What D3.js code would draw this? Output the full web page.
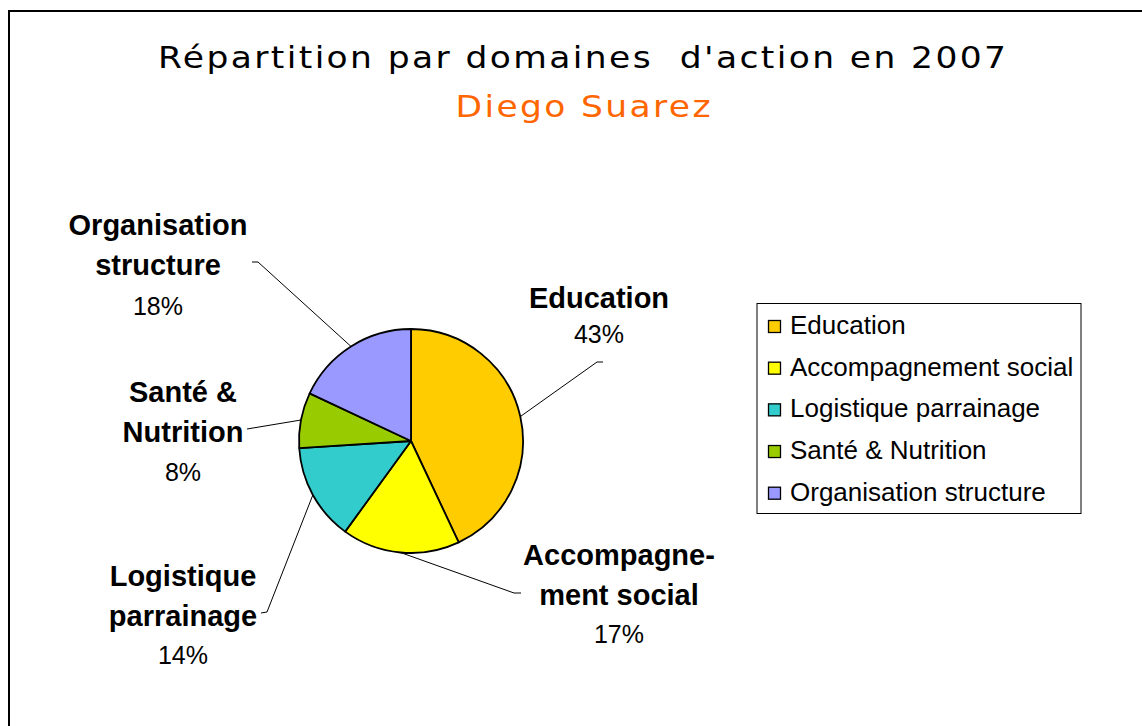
<!DOCTYPE html>
<html>
<head>
<meta charset="utf-8">
<script src="https://cdn.jsdelivr.net/npm/d3@7"></script>
<style>
  html, body { margin: 0; padding: 0; background: #fff; }
  svg { display: block; }
</style>
</head>
<body>
<svg id="chart" width="1142" height="726"></svg>
<script>
// ---- data ----
const categories = ["Education", "Accompagnement social", "Logistique parrainage", "Santé & Nutrition", "Organisation structure"];
const values = [43, 17, 14, 8, 18];
const labelLines = [["Education"], ["Accompagne-", "ment social"], ["Logistique", "parrainage"], ["Santé &", "Nutrition"], ["Organisation", "structure"]];
const colors = ["#FFCC00", "#FFFF00", "#33CCCC", "#99CC00", "#9999FF"];
const titleText = "Répartition par domaines\u00A0 d'action en 2007";
const subtitleText = "Diego Suarez";

// ---- layout (positions only) ----
const labelLayout = [
  { x: 599, y0: 308, gap: 40, pctY: 343, leader: [[603, 362], [597, 362]] },
  { x: 619, y0: 565, gap: 40, pctY: 643, leader: [[521, 593], [514, 593]] },
  { x: 183, y0: 586, gap: 40, pctY: 664, leader: [[261, 613], [267, 612]] },
  { x: 183, y0: 402, gap: 40, pctY: 481, leader: [[247, 429]] },
  { x: 158, y0: 235, gap: 40, pctY: 315, leader: [[252, 262], [258, 262]] }
];

const svg = d3.select("#chart");

// frame
svg.append("rect").attr("x", 9).attr("y", 11).attr("width", 1300).attr("height", 900)
  .attr("fill", "none").attr("stroke", "#000").attr("stroke-width", 2);

// titles (wide geometric look: horizontally stretched glyphs)
const sx = 1.15;
svg.append("text").attr("transform", `translate(582,68) scale(${sx},1)`).attr("text-anchor", "middle")
  .attr("font-family", "DejaVu Sans, sans-serif").attr("font-size", 30)
  .attr("textLength", 848 / sx).attr("lengthAdjust", "spacing")
  .attr("fill", "#000").text(titleText);
svg.append("text").attr("transform", `translate(583,117) scale(${sx},1)`).attr("text-anchor", "middle")
  .attr("font-family", "DejaVu Sans, sans-serif").attr("font-size", 30)
  .attr("textLength", 255 / sx).attr("lengthAdjust", "spacing")
  .attr("fill", "#FF6600").text(subtitleText);

// pie
const cx = 411, cy = 441, R = 112;
const pie = d3.pie().sort(null).value(d => d.v).startAngle(0).endAngle(2 * Math.PI);
const data = categories.map((c, i) => ({ c, v: values[i], i }));
const arcs = pie(data);
const arc = d3.arc().innerRadius(0).outerRadius(R);
const edge = d3.arc().innerRadius(R).outerRadius(R);

const g = svg.append("g").attr("transform", `translate(${cx},${cy})`);

// leader lines
arcs.forEach((a, i) => {
  const m = edge.centroid(a);
  const pts = [[cx + m[0], cy + m[1]]].concat(labelLayout[i].leader.slice().reverse());
  svg.append("path")
    .attr("d", d3.line()(pts))
    .attr("fill", "none").attr("stroke", "#000").attr("stroke-width", 1);
});

g.selectAll("path.slice").data(arcs).join("path")
  .attr("class", "slice")
  .attr("d", arc)
  .attr("fill", d => colors[d.data.i])
  .attr("stroke", "#000").attr("stroke-width", 1.8).attr("stroke-linejoin", "round");

// labels
arcs.forEach((a, i) => {
  const L = labelLayout[i];
  labelLines[i].forEach((line, k) => {
    svg.append("text").attr("x", L.x).attr("y", L.y0 + k * L.gap)
      .attr("text-anchor", "middle")
      .attr("font-family", "Liberation Sans, Arial, sans-serif")
      .attr("font-weight", "bold").attr("font-size", 29).attr("fill", "#000")
      .text(line);
  });
  svg.append("text").attr("x", L.x).attr("y", L.pctY)
    .attr("text-anchor", "middle")
    .attr("font-family", "Liberation Sans, Arial, sans-serif")
    .attr("font-size", 25).attr("fill", "#000")
    .text(values[i] + "%");
});

// legend
const lg = svg.append("g");
lg.append("rect").attr("x", 757).attr("y", 303.5).attr("width", 324).attr("height", 210)
  .attr("fill", "#fff").attr("stroke", "#000").attr("stroke-width", 1);
const rowY = d3.scalePoint().domain(categories).range([325, 491.7]);
categories.forEach((c, i) => {
  const y = rowY(c);
  lg.append("rect").attr("x", 768.5).attr("y", y - 4.5).attr("width", 12).attr("height", 12)
    .attr("fill", colors[i]).attr("stroke", "#000").attr("stroke-width", 1.3);
  lg.append("text").attr("x", 790).attr("y", y + 9)
    .attr("font-family", "Liberation Sans, Arial, sans-serif")
    .attr("font-size", 26).attr("fill", "#000").text(c);
});
</script>
</body>
</html>
